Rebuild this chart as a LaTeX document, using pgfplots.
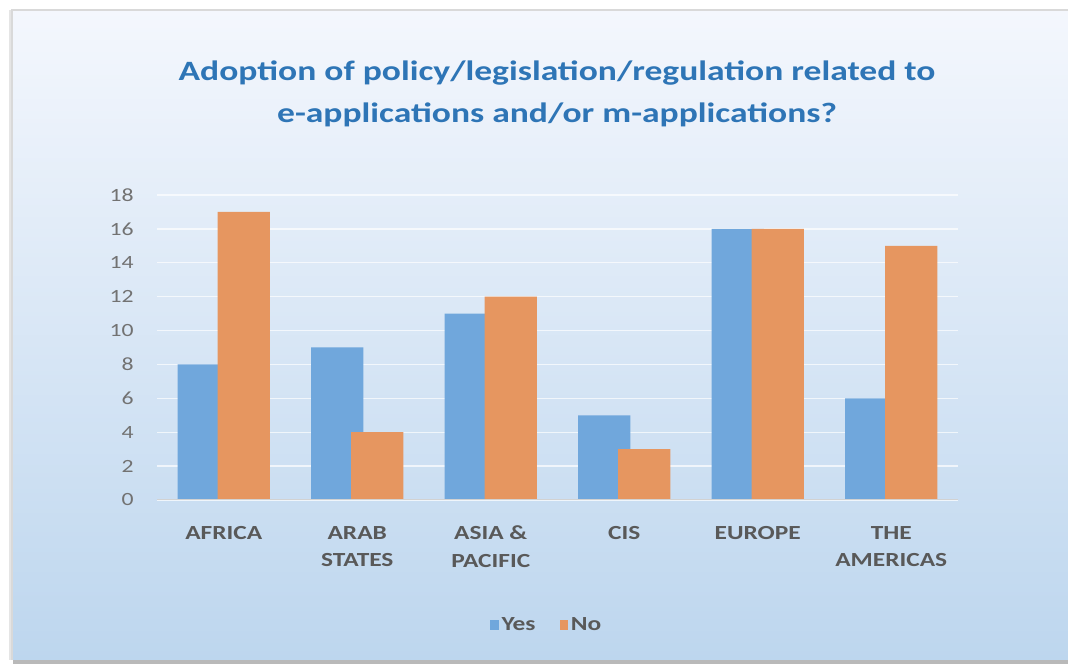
\documentclass[border=0pt]{standalone}
\usepackage{fontspec}
\setmainfont{Carlito}[FakeStretch=1.27]
\usepackage{pgfplots}
\pgfplotsset{compat=1.18}
\definecolor{yesc}{RGB}{112,167,220}
\definecolor{noc}{RGB}{230,150,96}
\definecolor{titc}{RGB}{46,117,182}
\definecolor{txt}{RGB}{89,89,89}
\definecolor{bgtop}{RGB}{244,247,253}
\definecolor{bgbot}{RGB}{189,214,238}
\begin{document}
\begin{tikzpicture}[x=0.75pt,y=0.75pt]
\useasboundingbox (0,0) rectangle (1068,664);
\fill[white] (0,0) rectangle (1068,664);
\fill[gray!55] (13,0) rectangle (1080,4.5);
\fill[gray!20] (9,4) rectangle (12.5,654);
\shade[top color=bgtop,bottom color=bgbot] (12,4) rectangle (1080,654);
\draw[gray!30, line width=1.2pt] (12,4) -- (12,654) -- (1080,654);
\node[font=\fontsize{21}{31}\selectfont\bfseries, text=titc, align=center] at (557,570)
  {Adoption of policy/legislation/regulation related to\\e-applications and/or m-applications?};
\begin{axis}[
  at={(117.75pt,123pt)}, anchor=south west,
  width=600.75pt, height=228.75pt, scale only axis,
  ymin=0, ymax=18, xmin=-0.5, xmax=5.5,
  ytick={0,2,...,18}, xtick={0,...,5},
  xticklabels={AFRICA, ARAB\\STATES, ASIA \&\\PACIFIC, CIS, EUROPE, THE\\AMERICAS},
  xticklabel style={align=center, font=\fontsize{15}{20.5}\selectfont\bfseries, text=txt, yshift=-16pt},
  yticklabel style={font=\fontsize{14}{16}\selectfont, text=txt!85, xshift=-14pt},
  /pgf/number format/assume math mode=true,
  axis line style={draw=none},
  major tick length=0pt,
  ymajorgrids, grid style={white, line width=1pt, opacity=0.7},
  ybar, bar width=0.39,
  legend style={at={(0.487,-0.41)}, anchor=center, draw=none, fill=none,
    legend columns=2, font=\fontsize{15}{18}\selectfont\bfseries, text=txt,
    /tikz/every even column/.append style={column sep=16pt}},
  legend image code/.code={\fill[#1] (0pt,-3.5pt) rectangle (6.5pt,3.5pt);},
]
\addplot[fill=yesc, draw=none, bar shift=-0.15] coordinates {(0,8) (1,9) (2,11) (3,5) (4,16) (5,6)};
\addplot[fill=noc, draw=none, bar shift=0.15] coordinates {(0,17) (1,4) (2,12) (3,3) (4,16) (5,15)};
\legend{Yes, No}
\draw[gray!35, line width=0.8pt] (axis cs:-0.5,0) -- (axis cs:5.5,0);
\end{axis}
\end{tikzpicture}
\end{document}
